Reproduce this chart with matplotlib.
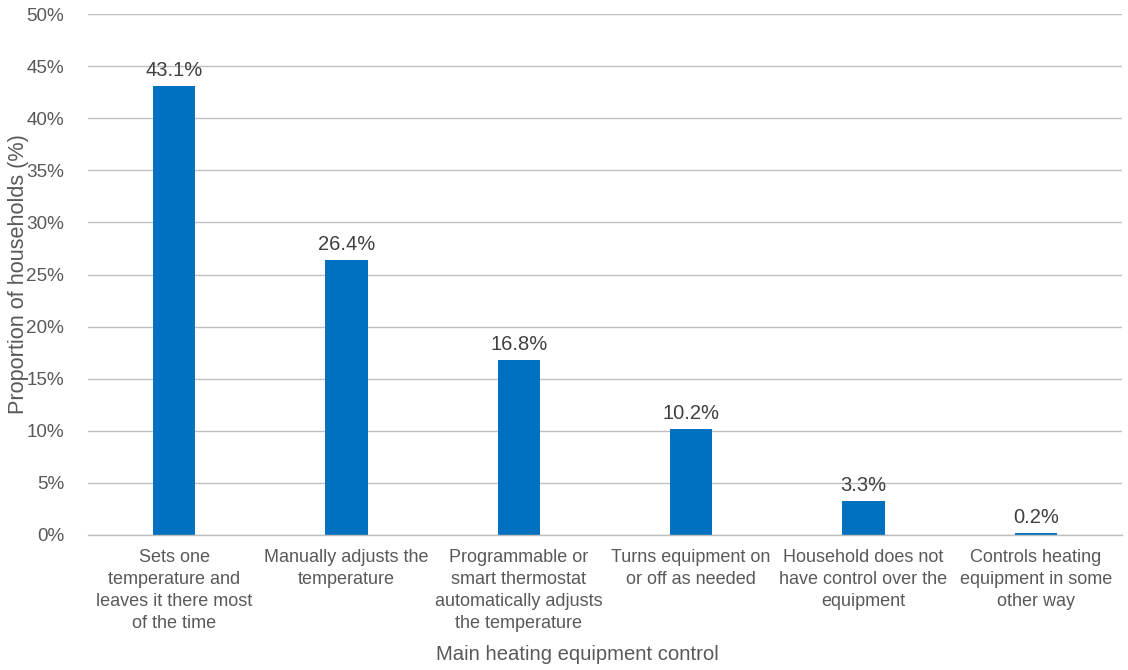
import numpy as np
import matplotlib.pyplot as plt

plt.rcParams['font.family'] = ['Liberation Sans', 'DejaVu Sans']

categories = [
    "Sets one\ntemperature and\nleaves it there most\nof the time",
    "Manually adjusts the\ntemperature",
    "Programmable or\nsmart thermostat\nautomatically adjusts\nthe temperature",
    "Turns equipment on\nor off as needed",
    "Household does not\nhave control over the\nequipment",
    "Controls heating\nequipment in some\nother way",
]
shares = [43.1, 26.4, 16.8, 10.2, 3.3, 0.2]
yticks = [0, 5, 10, 15, 20, 25, 30, 35, 40, 45, 50]

text_col = "#595959"
grid_col = "#BFBFBF"

fig = plt.figure(figsize=(11.28, 6.70), dpi=100)
ax = fig.add_axes([0.078, 0.2015, 0.9167, 0.7775])

x = np.arange(len(categories))
ax.bar(x, shares, width=0.245, color="#0070C0", zorder=3)

for xi, v in zip(x, shares):
    ax.text(xi, v + 0.55, f"{v:.1f}%", ha="center", va="bottom",
            fontsize=14.5, color="#404040", zorder=4)

ax.set_xlim(-0.5, len(categories) - 0.5)
ax.set_ylim(0, 50)
ax.set_yticks(yticks)
ax.set_yticklabels([f"{t}%" for t in yticks])
ax.set_xticks(x)
ax.set_xticklabels(categories, linespacing=1.38)

ax.grid(axis="y", color=grid_col, linewidth=1, zorder=0)
for s in ["top", "right", "left"]:
    ax.spines[s].set_visible(False)
ax.spines["bottom"].set_color(grid_col)
ax.spines["bottom"].set_linewidth(1)
ax.spines["bottom"].set_zorder(5)

ax.tick_params(axis="both", length=0, labelcolor=text_col)
ax.tick_params(axis="y", pad=17, labelsize=13.6)
ax.tick_params(axis="x", pad=10, labelsize=13)

# axis titles placed directly in figure coordinates
fig.text(19 / 1128, 1 - 274 / 670, "Proportion of households (%)", rotation=90,
         ha="center", va="center", fontsize=15.6, color=text_col)
fig.text(577 / 1128, 1 - 655 / 670, "Main heating equipment control",
         ha="center", va="center", fontsize=14.6, color=text_col)

fig.savefig("out.png", dpi=100)
